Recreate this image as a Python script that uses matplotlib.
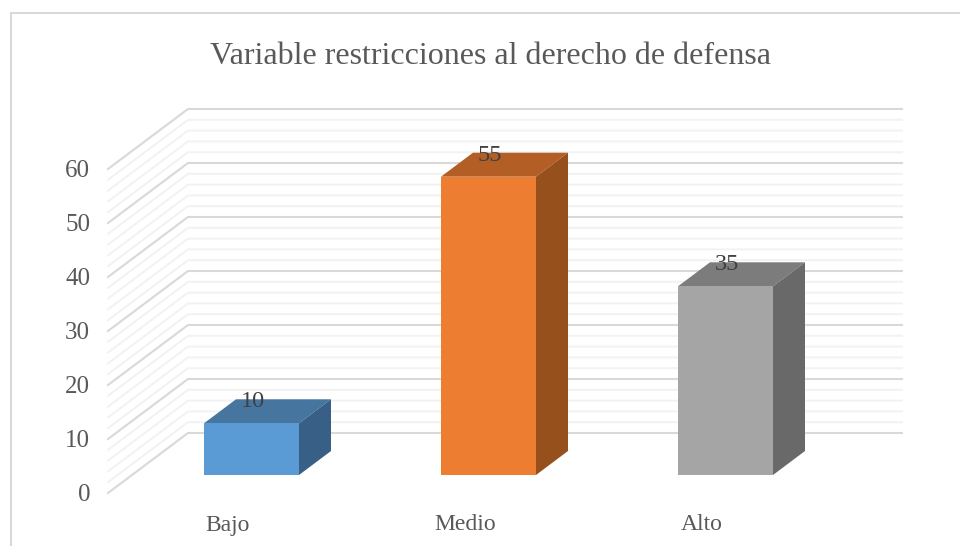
import numpy as np
import matplotlib
matplotlib.use('Agg')
import matplotlib.pyplot as plt
from matplotlib.patches import Polygon

categories = ['Bajo', 'Medio', 'Alto']
values = [10, 55, 35]
front_colors = ['#5b9bd5', '#ed7d31', '#a5a5a5']
top_colors = ['#4675a0', '#b25e25', '#7c7c7c']
side_colors = ['#385f86', '#96501c', '#696969']
y_ticks = [0, 10, 20, 30, 40, 50, 60]
y_minor = np.arange(0, 61, 2)
title = 'Variable restricciones al derecho de defensa'

W, H = 960, 546
# scale of the chart in pixels
px_cat = 237.0
px_val = 5.48
x0_px, y0_px = 251.5, 478.1

plt.rcParams['font.family'] = ['Liberation Serif', 'DejaVu Serif']

fig = plt.figure(figsize=(W / 100, H / 100), dpi=100)
ax = fig.add_axes([0, 0, 1, 1])
ax.set_xlim(-x0_px / px_cat, (W - x0_px) / px_cat)
ax.set_ylim((y0_px - H) / px_val, y0_px / px_val)
ax.axis('off')

# offsets between planes, given in data units
bar_dx, bar_dy = 32 / px_cat, 24 / px_val
bar_base = (y0_px - 475) / px_val
wall_front_x = (108 - x0_px) / px_cat
wall_back_x = (188 - x0_px) / px_cat
wall_right_x = (902 - x0_px) / px_cat
wall_front_dy = (y0_px - 493) / px_val
wall_back_dy = (y0_px - 433) / px_val
wall_scale = 5.4 / px_val
bar_w = 95 / px_cat

# gridlines, light ones first
for v in y_minor:
    major = v in y_ticks
    ax.plot([wall_front_x, wall_back_x, wall_right_x],
            [v * wall_scale + wall_front_dy, v * wall_scale + wall_back_dy, v * wall_scale + wall_back_dy],
            color='#d9d9d9' if major else '#f2f2f2',
            lw=1.5 if major else 1.4, solid_joinstyle='miter',
            zorder=2 if major else 1)

for i, v in enumerate(values):
    l, r = i - bar_w / 2, i + bar_w / 2
    ax.add_patch(Polygon([(l, bar_base), (r, bar_base), (r, v), (l, v)],
                         fc=front_colors[i], ec='none', zorder=4))
    ax.add_patch(Polygon([(l, v), (r, v), (r + bar_dx, v + bar_dy), (l + bar_dx, v + bar_dy)],
                         fc=top_colors[i], ec='none', zorder=3))
    ax.add_patch(Polygon([(r, bar_base), (r + bar_dx, bar_base + bar_dy), (r + bar_dx, v + bar_dy), (r, v)],
                         fc=side_colors[i], ec='none', zorder=3))
    ax.text(i + 1.5 / px_cat, v + 21.5 / px_val, str(v), ha='center', va='center',
            fontsize=17.5, color='#404040', zorder=5)
    ax.text(i - 23.5 / px_cat, (y0_px - 525) / px_val, categories[i], ha='center', va='center',
            fontsize=17, color='#595959', zorder=5)

for v in y_ticks:
    ax.text((90 - x0_px) / px_cat, v * wall_scale + wall_front_dy - 2 / px_val, str(v), ha='right', va='center',
            fontsize=18, color='#595959')

ax.text((491 - x0_px) / px_cat, (y0_px - 57) / px_val, title, ha='center', va='center',
        fontsize=23, color='#595959')

# chart frame, cut off on the right and at the bottom of the image
fig.add_artist(plt.Line2D([10.5 / W, 10.5 / W, 1], [0, 1 - 12.5 / H, 1 - 12.5 / H],
                          color='#d9d9d9', lw=1.5, solid_joinstyle='miter'))

plt.savefig('out.png', dpi=100)
